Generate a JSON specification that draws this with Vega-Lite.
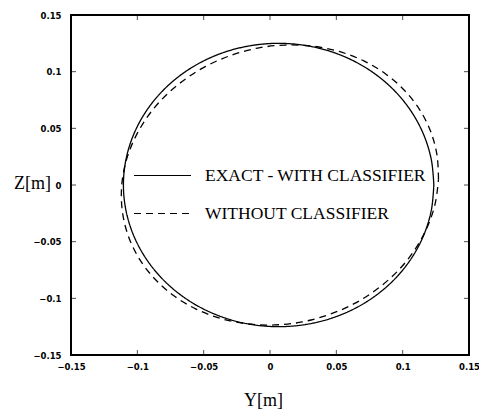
{
  "$schema": "https://vega.github.io/schema/vega-lite/v6.json",
  "width": 398,
  "height": 340,
  "autosize": {"type": "none"},
  "padding": {"left": 71, "top": 15, "right": 10, "bottom": 62},
  "background": "white",
  "config": {
    "view": {"stroke": "black", "strokeWidth": 2},
    "axis": {
      "domain": false,
      "grid": false,
      "ticks": false,
      "tickSize": 0,
      "labelFont": "DejaVu Sans",
      "labelFontWeight": "bold",
      "labelFontSize": 8.5,
      "labelColor": "black",
      "labelFlush": false,
      "labelOverlap": false,
      "titleFont": "Liberation Serif",
      "titleFontSize": 18,
      "titleFontWeight": "normal",
      "titleColor": "black"
    }
  },
  "datasets": {
    "ticks": [{"v": -0.1}, {"v": -0.05}, {"v": 0}, {"v": 0.05}, {"v": 0.1}]
  },
  "data": {
    "values": [
      {"series": "EXACT - WITH CLASSIFIER", "t": 0, "y": 0.1235, "z": 0},
      {"series": "EXACT - WITH CLASSIFIER", "t": 1, "y": 0.1217, "z": 0.0217},
      {"series": "EXACT - WITH CLASSIFIER", "t": 2, "y": 0.1164, "z": 0.0428},
      {"series": "EXACT - WITH CLASSIFIER", "t": 3, "y": 0.1078, "z": 0.0625},
      {"series": "EXACT - WITH CLASSIFIER", "t": 4, "y": 0.0961, "z": 0.0804},
      {"series": "EXACT - WITH CLASSIFIER", "t": 5, "y": 0.0817, "z": 0.0958},
      {"series": "EXACT - WITH CLASSIFIER", "t": 6, "y": 0.065, "z": 0.1083},
      {"series": "EXACT - WITH CLASSIFIER", "t": 7, "y": 0.0465, "z": 0.1175},
      {"series": "EXACT - WITH CLASSIFIER", "t": 8, "y": 0.0268, "z": 0.1231},
      {"series": "EXACT - WITH CLASSIFIER", "t": 9, "y": 0.0065, "z": 0.125},
      {"series": "EXACT - WITH CLASSIFIER", "t": 10, "y": -0.0138, "z": 0.1231},
      {"series": "EXACT - WITH CLASSIFIER", "t": 11, "y": -0.0335, "z": 0.1175},
      {"series": "EXACT - WITH CLASSIFIER", "t": 12, "y": -0.052, "z": 0.1083},
      {"series": "EXACT - WITH CLASSIFIER", "t": 13, "y": -0.0687, "z": 0.0958},
      {"series": "EXACT - WITH CLASSIFIER", "t": 14, "y": -0.0831, "z": 0.0804},
      {"series": "EXACT - WITH CLASSIFIER", "t": 15, "y": -0.0948, "z": 0.0625},
      {"series": "EXACT - WITH CLASSIFIER", "t": 16, "y": -0.1034, "z": 0.0428},
      {"series": "EXACT - WITH CLASSIFIER", "t": 17, "y": -0.1087, "z": 0.0217},
      {"series": "EXACT - WITH CLASSIFIER", "t": 18, "y": -0.1105, "z": 0},
      {"series": "EXACT - WITH CLASSIFIER", "t": 19, "y": -0.1087, "z": -0.0217},
      {"series": "EXACT - WITH CLASSIFIER", "t": 20, "y": -0.1034, "z": -0.0428},
      {"series": "EXACT - WITH CLASSIFIER", "t": 21, "y": -0.0948, "z": -0.0625},
      {"series": "EXACT - WITH CLASSIFIER", "t": 22, "y": -0.0831, "z": -0.0804},
      {"series": "EXACT - WITH CLASSIFIER", "t": 23, "y": -0.0687, "z": -0.0958},
      {"series": "EXACT - WITH CLASSIFIER", "t": 24, "y": -0.052, "z": -0.1083},
      {"series": "EXACT - WITH CLASSIFIER", "t": 25, "y": -0.0335, "z": -0.1175},
      {"series": "EXACT - WITH CLASSIFIER", "t": 26, "y": -0.0138, "z": -0.1231},
      {"series": "EXACT - WITH CLASSIFIER", "t": 27, "y": 0.0065, "z": -0.125},
      {"series": "EXACT - WITH CLASSIFIER", "t": 28, "y": 0.0268, "z": -0.1231},
      {"series": "EXACT - WITH CLASSIFIER", "t": 29, "y": 0.0465, "z": -0.1175},
      {"series": "EXACT - WITH CLASSIFIER", "t": 30, "y": 0.065, "z": -0.1083},
      {"series": "EXACT - WITH CLASSIFIER", "t": 31, "y": 0.0817, "z": -0.0958},
      {"series": "EXACT - WITH CLASSIFIER", "t": 32, "y": 0.0961, "z": -0.0804},
      {"series": "EXACT - WITH CLASSIFIER", "t": 33, "y": 0.1078, "z": -0.0625},
      {"series": "EXACT - WITH CLASSIFIER", "t": 34, "y": 0.1164, "z": -0.0428},
      {"series": "EXACT - WITH CLASSIFIER", "t": 35, "y": 0.1217, "z": -0.0217},
      {"series": "EXACT - WITH CLASSIFIER", "t": 36, "y": 0.1235, "z": 0},
      {"series": "WITHOUT CLASSIFIER", "t": 0, "y": 0.127, "z": 0.005},
      {"series": "WITHOUT CLASSIFIER", "t": 1, "y": 0.1259, "z": 0.0264},
      {"series": "WITHOUT CLASSIFIER", "t": 2, "y": 0.1212, "z": 0.0469},
      {"series": "WITHOUT CLASSIFIER", "t": 3, "y": 0.113, "z": 0.0661},
      {"series": "WITHOUT CLASSIFIER", "t": 4, "y": 0.1016, "z": 0.0832},
      {"series": "WITHOUT CLASSIFIER", "t": 5, "y": 0.0874, "z": 0.0978},
      {"series": "WITHOUT CLASSIFIER", "t": 6, "y": 0.0707, "z": 0.1095},
      {"series": "WITHOUT CLASSIFIER", "t": 7, "y": 0.0521, "z": 0.1178},
      {"series": "WITHOUT CLASSIFIER", "t": 8, "y": 0.0322, "z": 0.1225},
      {"series": "WITHOUT CLASSIFIER", "t": 9, "y": 0.0115, "z": 0.1235},
      {"series": "WITHOUT CLASSIFIER", "t": 10, "y": -0.0093, "z": 0.1208},
      {"series": "WITHOUT CLASSIFIER", "t": 11, "y": -0.0296, "z": 0.1143},
      {"series": "WITHOUT CLASSIFIER", "t": 12, "y": -0.0488, "z": 0.1045},
      {"series": "WITHOUT CLASSIFIER", "t": 13, "y": -0.0662, "z": 0.0914},
      {"series": "WITHOUT CLASSIFIER", "t": 14, "y": -0.0815, "z": 0.0756},
      {"series": "WITHOUT CLASSIFIER", "t": 15, "y": -0.094, "z": 0.0574},
      {"series": "WITHOUT CLASSIFIER", "t": 16, "y": -0.1034, "z": 0.0375},
      {"series": "WITHOUT CLASSIFIER", "t": 17, "y": -0.1095, "z": 0.0165},
      {"series": "WITHOUT CLASSIFIER", "t": 18, "y": -0.112, "z": -0.005},
      {"series": "WITHOUT CLASSIFIER", "t": 19, "y": -0.1109, "z": -0.0264},
      {"series": "WITHOUT CLASSIFIER", "t": 20, "y": -0.1062, "z": -0.0469},
      {"series": "WITHOUT CLASSIFIER", "t": 21, "y": -0.098, "z": -0.0661},
      {"series": "WITHOUT CLASSIFIER", "t": 22, "y": -0.0866, "z": -0.0832},
      {"series": "WITHOUT CLASSIFIER", "t": 23, "y": -0.0724, "z": -0.0978},
      {"series": "WITHOUT CLASSIFIER", "t": 24, "y": -0.0557, "z": -0.1095},
      {"series": "WITHOUT CLASSIFIER", "t": 25, "y": -0.0371, "z": -0.1178},
      {"series": "WITHOUT CLASSIFIER", "t": 26, "y": -0.0172, "z": -0.1225},
      {"series": "WITHOUT CLASSIFIER", "t": 27, "y": 0.0035, "z": -0.1235},
      {"series": "WITHOUT CLASSIFIER", "t": 28, "y": 0.0243, "z": -0.1208},
      {"series": "WITHOUT CLASSIFIER", "t": 29, "y": 0.0446, "z": -0.1143},
      {"series": "WITHOUT CLASSIFIER", "t": 30, "y": 0.0638, "z": -0.1045},
      {"series": "WITHOUT CLASSIFIER", "t": 31, "y": 0.0812, "z": -0.0914},
      {"series": "WITHOUT CLASSIFIER", "t": 32, "y": 0.0965, "z": -0.0756},
      {"series": "WITHOUT CLASSIFIER", "t": 33, "y": 0.109, "z": -0.0574},
      {"series": "WITHOUT CLASSIFIER", "t": 34, "y": 0.1184, "z": -0.0375},
      {"series": "WITHOUT CLASSIFIER", "t": 35, "y": 0.1245, "z": -0.0165},
      {"series": "WITHOUT CLASSIFIER", "t": 36, "y": 0.127, "z": 0.005}
    ]
  },
  "layer": [
    {
      "mark": {"type": "line", "color": "black", "strokeWidth": 1.3, "interpolate": "catmull-rom"},
      "encoding": {
        "x": {
          "field": "y", "type": "quantitative", "title": "Y[m]",
          "scale": {"domain": [-0.15, 0.15], "nice": false, "zero": false},
          "axis": {"orient": "bottom", "title": "Y[m]", "values": [-0.15, -0.1, -0.05, 0, 0.05, 0.1, 0.15], "format": ".2~f", "labelPadding": 7, "titleX": 192, "titleY": 45, "titleAlign": "center", "titleBaseline": "middle"}
        },
        "y": {
          "field": "z", "type": "quantitative", "title": "Z[m]",
          "scale": {"domain": [-0.15, 0.15], "nice": false, "zero": false},
          "axis": {"orient": "left", "title": "Z[m]", "values": [-0.15, -0.1, -0.05, 0, 0.05, 0.1, 0.15], "format": ".2~f", "labelPadding": 10, "titleAngle": 0, "titleX": -39, "titleY": 168, "titleAlign": "center", "titleBaseline": "middle"}
        },
        "order": {"field": "t", "type": "quantitative"},
        "strokeDash": {
          "field": "series", "type": "nominal",
          "scale": {"domain": ["EXACT - WITH CLASSIFIER", "WITHOUT CLASSIFIER"], "range": [[1, 0], [7, 5]]},
          "legend": {
            "orient": "none", "legendX": 62, "legendY": 131, "title": null, "padding": 0,
            "symbolType": "stroke", "symbolSize": 3249, "symbolStrokeWidth": 1.2, "symbolStrokeColor": "black",
            "labelFont": "Liberation Serif", "labelFontSize": 17.5, "labelColor": "black", "labelOffset": 13,
            "rowPadding": -13, "labelLimit": 400
          }
        }
      }
    },
    {
      "data": {"name": "ticks"},
      "mark": {"type": "tick", "orient": "vertical", "size": 10, "thickness": 1, "color": "black", "clip": true},
      "encoding": {
        "x": {"field": "v", "type": "quantitative", "title": "Y[m]"},
        "y": {"datum": -0.15, "type": "quantitative", "title": "Z[m]"}
      }
    },
    {
      "data": {"name": "ticks"},
      "mark": {"type": "tick", "orient": "vertical", "size": 10, "thickness": 1, "color": "black", "clip": true},
      "encoding": {
        "x": {"field": "v", "type": "quantitative", "title": "Y[m]"},
        "y": {"datum": 0.15, "type": "quantitative", "title": "Z[m]"}
      }
    },
    {
      "data": {"name": "ticks"},
      "mark": {"type": "tick", "orient": "horizontal", "size": 10, "thickness": 1, "color": "black", "clip": true},
      "encoding": {
        "y": {"field": "v", "type": "quantitative", "title": "Z[m]"},
        "x": {"datum": -0.15, "type": "quantitative", "title": "Y[m]"}
      }
    },
    {
      "data": {"name": "ticks"},
      "mark": {"type": "tick", "orient": "horizontal", "size": 10, "thickness": 1, "color": "black", "clip": true},
      "encoding": {
        "y": {"field": "v", "type": "quantitative", "title": "Z[m]"},
        "x": {"datum": 0.15, "type": "quantitative", "title": "Y[m]"}
      }
    }
  ]
}
